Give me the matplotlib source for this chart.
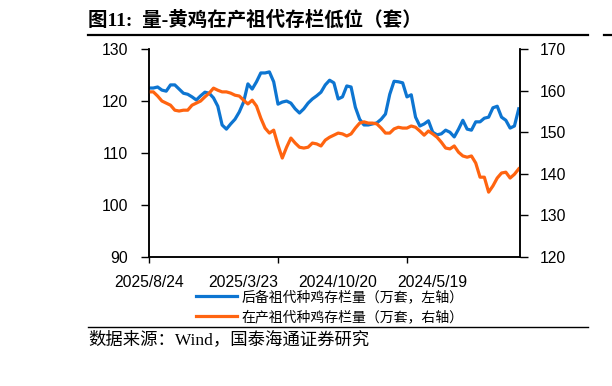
import numpy as np
import pandas as pd
import matplotlib
matplotlib.use('Agg')
import matplotlib.pyplot as plt
from matplotlib.lines import Line2D

# 周度数据，日期从新到旧排列（与原图一致）
dates = pd.date_range(end='2025-08-24', periods=87, freq='W-SUN')[::-1]

# 后备祖代种鸡存栏量（万套，左轴）
houbei = [122.5, 122.5, 122.7, 122.1, 121.9, 123.1, 123.1, 122.3, 121.5, 121.3,
          120.8, 120.2, 121.0, 121.7, 121.5, 120.6, 119.0, 115.4, 114.6, 115.6,
          116.5, 117.9, 119.8, 123.3, 122.3, 123.7, 125.4, 125.4, 125.6, 123.7,
          119.4, 119.8, 120.0, 119.6, 118.5, 117.7, 118.5, 119.6, 120.4, 121.0,
          121.7, 123.1, 124.0, 123.5, 120.4, 120.8, 122.9, 122.7, 118.8, 116.5,
          115.4, 115.4, 115.6, 115.8, 116.5, 117.5, 121.3, 123.8, 123.7, 123.5,
          120.8, 121.2, 116.9, 115.2, 115.6, 116.2, 114.0, 113.5, 113.7, 114.4,
          114.0, 113.1, 114.6, 116.3, 114.6, 114.4, 116.0, 116.0, 116.7, 116.9,
          118.7, 119.0, 116.9, 116.3, 114.8, 115.2, 118.5]

# 在产祖代种鸡存栏量（万套，右轴）
zaichan = [159.7, 159.7, 158.7, 157.5, 157.0, 156.5, 155.3, 155.1, 155.3, 155.3,
           156.5, 157.0, 157.5, 158.5, 159.4, 160.6, 160.1, 159.7, 159.7, 159.4,
           158.9, 158.7, 157.7, 156.8, 157.7, 156.3, 153.4, 151.0, 149.8, 150.5,
           146.9, 143.8, 146.4, 148.6, 147.4, 146.4, 146.2, 146.4, 147.4, 147.2,
           146.7, 148.1, 148.8, 149.3, 149.8, 149.6, 149.1, 149.6, 151.0, 152.2,
           152.5, 152.2, 152.2, 152.0, 151.0, 149.8, 149.8, 150.8, 151.2, 151.0,
           151.0, 151.5, 151.2, 150.3, 149.3, 150.3, 149.6, 148.8, 147.6, 146.2,
           146.0, 146.7, 145.2, 144.3, 144.0, 144.3, 142.6, 139.2, 139.2, 135.6,
           137.1, 139.0, 140.2, 140.4, 139.0, 139.9, 141.2]

label_idx = [0, 22, 44, 66]
tick_idx = [0, 30, 60]
x_labels = [f'{d.year}/{d.month}/{d.day}' for d in dates[label_idx]]

blue = '#0D75D1'
orange = '#FF6410'
num_font = 'Liberation Sans'
cjk = ['Liberation Serif', 'Noto Sans CJK SC']

fig = plt.figure(figsize=(6.12, 3.86), dpi=100)
ax = fig.add_axes([0.2435, 0.334, 0.6062, 0.539])
ax2 = ax.twinx()

x = np.arange(len(dates))
ax.plot(x, houbei, color=blue, lw=2.3, solid_joinstyle='round')
ax2.plot(x, zaichan, color=orange, lw=2.3, solid_joinstyle='round')

ax.set_xlim(0, 86.3)
ax.set_ylim(90, 130)
ax2.set_ylim(120, 170)
ax.set_yticks(np.arange(90, 131, 10))
ax2.set_yticks(np.arange(120, 171, 10))

ax.xaxis.remove_overlapping_locs = False
ax.set_xticks(tick_idx)
ax.set_xticklabels([''] * len(tick_idx))
ax.set_xticks(label_idx, minor=True)
ax.set_xticklabels(x_labels, minor=True, fontfamily=num_font, fontsize=11.3)
ax.tick_params(axis='x', which='minor', length=0, pad=13)
ax.tick_params(axis='x', which='major', length=4, width=1, direction='out')

ax.tick_params(axis='y', length=6, width=1, pad=9, direction='out')
ax2.tick_params(axis='y', length=6, width=1, pad=8, direction='out')
for lab in ax.get_yticklabels() + ax2.get_yticklabels():
    lab.set_fontfamily(num_font)
    lab.set_fontsize(11.3)

for a in (ax, ax2):
    a.spines['top'].set_visible(False)
    for s in ('left', 'right', 'bottom'):
        a.spines[s].set_linewidth(1.1)

# 标题
fig.text(88 / 612, 1 - 20 / 386, '图11:  量-黄鸡在产祖代存栏低位（套）',
         family=cjk, fontsize=14, fontweight='bold', va='center', ha='left')
fig.add_artist(Line2D([88 / 612, 588 / 612], [1 - 35 / 386] * 2, color='black', lw=1.6))
fig.add_artist(Line2D([604 / 612, 612 / 612], [1 - 35 / 386] * 2, color='black', lw=1.6))

# 图例
handles = [Line2D([], [], color=blue, lw=2.3), Line2D([], [], color=orange, lw=2.3)]
names = ['后备祖代种鸡存栏量（万套，左轴）', '在产祖代种鸡存栏量（万套，右轴）']
leg = fig.legend(handles, names, loc='center', bbox_to_anchor=(330 / 612, 1 - 307 / 386),
                 frameon=False, handlelength=2.9, handletextpad=0.35, labelspacing=0.45,
                 prop={'family': 'Noto Sans CJK SC', 'size': 10})

fig.add_artist(Line2D([88 / 612, 588 / 612], [1 - 327 / 386] * 2, color='black', lw=1.0))
fig.text(88 / 612, 1 - 340 / 386, '数据来源：Wind，国泰海通证券研究',
         family=cjk, fontsize=12.5, va='center', ha='left')

fig.savefig('out.png', dpi=100)
